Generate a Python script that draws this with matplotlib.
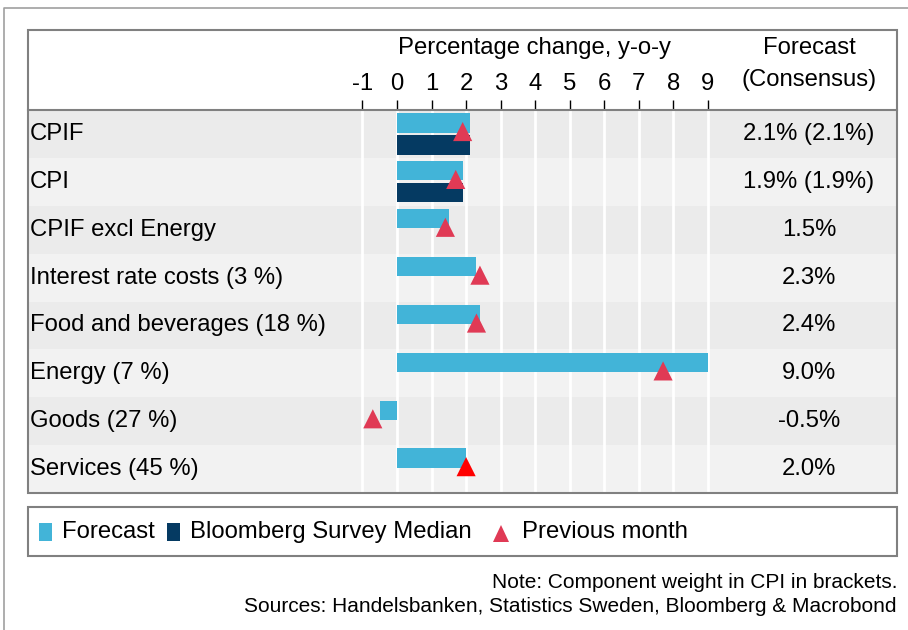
import matplotlib
matplotlib.use("Agg")
import matplotlib.pyplot as plt
from matplotlib import font_manager
from matplotlib.patches import Rectangle, Polygon
from matplotlib.lines import Line2D

# font: narrow one if it is there
fam = "Liberation Sans"
try:
    font_manager.findfont("Liberation Sans Narrow", fallback_to_default=False)
    fam = "Liberation Sans Narrow"
except Exception:
    pass
plt.rcParams['font.family'] = [fam, 'DejaVu Sans']

categories = ["CPIF", "CPI", "CPIF excl Energy", "Interest rate costs (3 %)",
              "Food and beverages (18 %)", "Energy (7 %)", "Goods (27 %)", "Services (45 %)"]
forecast = [2.1, 1.9, 1.5, 2.3, 2.4, 9.0, -0.5, 2.0]
bloomberg = [2.1, 1.9, None, None, None, None, None, None]
previous = [1.9, 1.7, 1.4, 2.4, 2.3, 7.7, -0.7, 2.0]
forecast_txt = ["2.1% (2.1%)", "1.9% (1.9%)", "1.5%", "2.3%", "2.4%", "9.0%", "-0.5%", "2.0%"]
ticks = [-1, 0, 1, 2, 3, 4, 5, 6, 7, 8, 9]

c_fc = "#42b4d8"
c_bb = "#053a62"
c_prev = "#e03a55"
c_border = "#808080"
FS = 17.2

W, H = 908, 630
fig = plt.figure(figsize=(W / 100, H / 100), dpi=100)

def fx(px):
    return px / W

def fy(py):
    return 1 - py / H

# outer frame (left + top)
fig.add_artist(Line2D([fx(4), fx(4), fx(908)], [fy(630), fy(8), fy(8)], color="#a0a0a0", lw=1.2))

# table box
L, R, T, B, HB = 28, 897, 30, 493, 110
ax = fig.add_axes([fx(L), fy(B), fx(R - L), (B - HB) / H])
fig.add_artist(Rectangle((fx(L), fy(B)), fx(R - L), (B - T) / H, fill=False,
                         edgecolor=c_border, lw=1.5, zorder=10))

# x scale: 0 -> 397 px, 9 -> 708 px
ppu = (708 - 397) / 9
ax.set_xlim((L - 397) / ppu, (R - 397) / ppu)
n = len(categories)
ax.set_ylim(n - 0.5, -0.5)

for i in range(n):
    ax.axhspan(i - 0.5, i + 0.5, color="#ebebeb" if i % 2 == 0 else "#f2f2f2", lw=0, zorder=0)
ax.vlines(ticks, -0.5, n - 0.5, color="white", lw=2, zorder=1)

ys = list(range(n))
ax.barh([y - 0.23 for y in ys], forecast, height=0.4, color=c_fc, zorder=3)
bb_y = [y + 0.23 for y, v in zip(ys, bloomberg) if v is not None]
bb_v = [v for v in bloomberg if v is not None]
ax.barh(bb_y, bb_v, height=0.4, color=c_bb, zorder=3)
tri_c = [c_prev] * (n - 1) + ["#ff0000"]
ax.scatter(previous, [y - 0.05 for y in ys], marker="^", s=190, c=tri_c, zorder=4, linewidths=0)

for y, lab, ft in zip(ys, categories, forecast_txt):
    ax.text((30 - 397) / ppu, y, lab, fontsize=FS, va="center", ha="left", zorder=5)
    ax.text((809 - 397) / ppu, y, ft, fontsize=FS, va="center", ha="center", zorder=5)

ax.xaxis.tick_top()
ax.set_xticks(ticks)
ax.set_xticklabels([str(t) for t in ticks], fontsize=FS)
ax.tick_params(axis="x", length=7, width=1, pad=4, color="black")
ax.set_yticks([])
for s in ax.spines.values():
    s.set_visible(False)
ax.spines["top"].set_visible(True)
ax.spines["top"].set_color(c_border)
ax.spines["top"].set_linewidth(1.5)

fig.text(fx(535), fy(48), "Percentage change, y-o-y", fontsize=FS, ha="center", va="center")
fig.text(fx(809), fy(48), "Forecast", fontsize=FS, ha="center", va="center")
fig.text(fx(809), fy(80), "(Consensus)", fontsize=FS, ha="center", va="center")

# legend box
fig.add_artist(Rectangle((fx(L), fy(556)), fx(R - L), 49 / H, fill=False,
                         edgecolor=c_border, lw=1.5))
fig.add_artist(Rectangle((fx(39), fy(541)), fx(13), 18 / H, color=c_fc, lw=0))
fig.text(fx(62), fy(532), "Forecast", fontsize=FS, va="center", ha="left")
fig.add_artist(Rectangle((fx(167), fy(541)), fx(13), 18 / H, color=c_bb, lw=0))
fig.text(fx(190), fy(532), "Bloomberg Survey Median", fontsize=FS, va="center", ha="left")
fig.add_artist(Polygon([(fx(493), fy(542)), (fx(509), fy(542)), (fx(501), fy(525))],
                       closed=True, color=c_prev, lw=0))
fig.text(fx(522), fy(532), "Previous month", fontsize=FS, va="center", ha="left")

fig.text(fx(R), fy(582), "Note: Component weight in CPI in brackets.", fontsize=15, ha="right", va="center")
fig.text(fx(R), fy(607), "Sources: Handelsbanken, Statistics Sweden, Bloomberg & Macrobond",
         fontsize=15, ha="right", va="center")

fig.savefig("out.png", dpi=100)
